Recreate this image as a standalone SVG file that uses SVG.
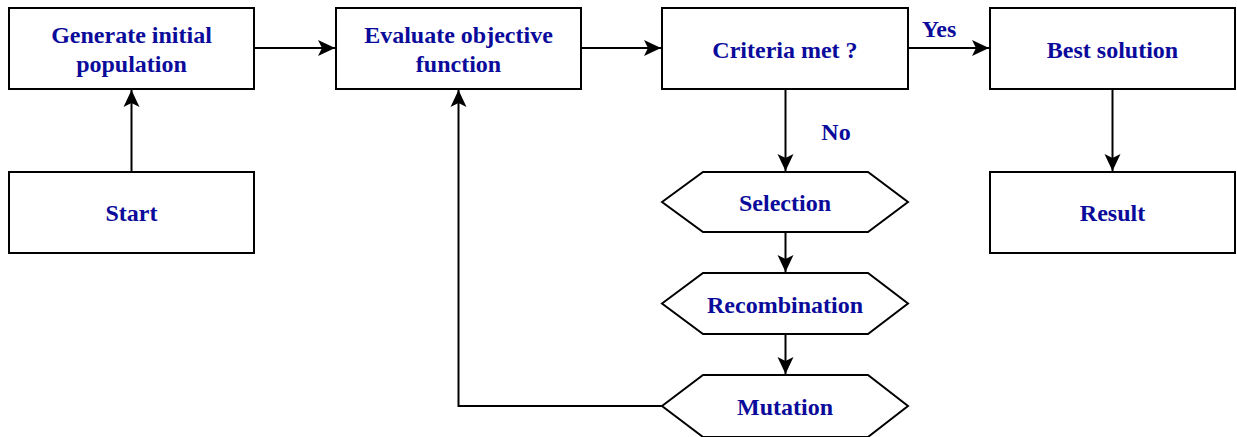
<svg xmlns="http://www.w3.org/2000/svg" width="1237" height="437" viewBox="0 0 1237 437">
<style>
.box{fill:#fff;stroke:#000;stroke-width:2}
.t{font-family:"Liberation Serif","Times New Roman",serif;font-weight:bold;font-size:24px;fill:#0b0b9b;text-anchor:middle}
.c{fill:none;stroke:#000;stroke-width:2}
</style>
<defs>
<marker id="ah" markerUnits="userSpaceOnUse" markerWidth="20" markerHeight="20" refX="18" refY="10" orient="auto" viewBox="0 0 20 20">
<path d="M1,2 L18,10 L1,18 L5,10 z" fill="#000"/>
</marker>
</defs>
<rect width="1237" height="437" fill="#fff"/>
<g id="connectors">
<path class="c" d="M131.5,172 V90" marker-end="url(#ah)"/>
<path class="c" d="M254,48 H335" marker-end="url(#ah)"/>
<path class="c" d="M581,48 H661" marker-end="url(#ah)"/>
<path class="c" d="M908,48 H989" marker-end="url(#ah)"/>
<path class="c" d="M785.5,89 V171" marker-end="url(#ah)"/>
<path class="c" d="M785.5,232 V272" marker-end="url(#ah)"/>
<path class="c" d="M785.5,334 V374" marker-end="url(#ah)"/>
<path class="c" d="M1112.5,89 V171" marker-end="url(#ah)"/>
<path class="c" d="M662,406 H458.5 V90" marker-end="url(#ah)"/>
<text class="t" x="939" y="37">Yes</text>
<text class="t" x="836" y="140">No</text>
</g>
<g id="generate">
<rect class="box" x="9" y="8" width="245" height="81"/>
<text class="t" x="131.5" y="43">Generate initial</text>
<text class="t" x="131.5" y="72">population</text>
</g>
<g id="start">
<rect class="box" x="9" y="172" width="245" height="81"/>
<text class="t" x="131.5" y="221">Start</text>
</g>
<g id="evaluate">
<rect class="box" x="336" y="8" width="245" height="81"/>
<text class="t" x="458.5" y="43">Evaluate objective</text>
<text class="t" x="458.5" y="72">function</text>
</g>
<g id="criteria">
<rect class="box" x="662" y="8" width="246" height="81"/>
<text class="t" x="785" y="58">Criteria met ?</text>
</g>
<g id="best">
<rect class="box" x="990" y="8" width="245" height="81"/>
<text class="t" x="1112.5" y="58">Best solution</text>
</g>
<g id="result">
<rect class="box" x="990" y="172" width="245" height="81"/>
<text class="t" x="1112.5" y="221">Result</text>
</g>
<g id="selection">
<polygon class="box" points="662,202 703,172 868,172 908,202 868,232 703,232"/>
<text class="t" x="785" y="211">Selection</text>
</g>
<g id="recombination">
<polygon class="box" points="662,303.5 703,273 868,273 908,303.5 868,334 703,334"/>
<text class="t" x="785" y="313">Recombination</text>
</g>
<g id="mutation">
<polygon class="box" points="662,406 703,375 868,375 908,406 868,437 703,437"/>
<text class="t" x="785" y="415">Mutation</text>
</g>
</svg>
